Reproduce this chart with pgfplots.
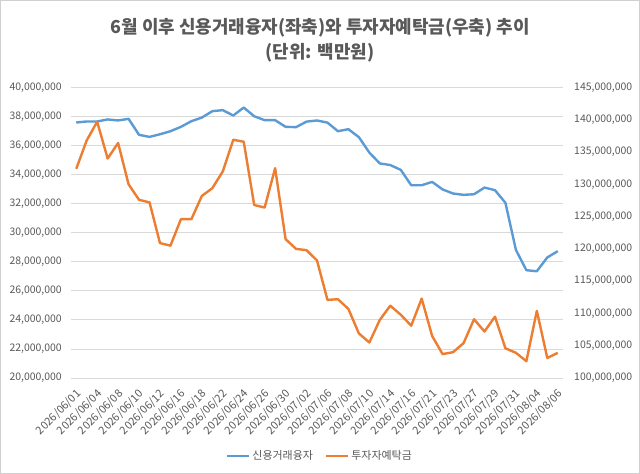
\documentclass[border=0pt]{standalone}
\usepackage{fontspec}
\setmainfont{Noto Sans CJK KR}
\usepackage{pgfplots}
\pgfplotsset{compat=1.18}
\definecolor{cblue}{HTML}{5B9BD5}
\definecolor{corange}{HTML}{ED7D31}
\definecolor{ctext}{HTML}{595959}
\definecolor{cgrid}{HTML}{D9D9D9}
\definecolor{cframe}{HTML}{D0D0D0}

\pgfplotstableread{
i blue orange
0 37590000 132400000
1 37660000 136800000
2 37660000 139700000
3 37800000 134000000
4 37730000 136400000
5 37840000 130000000
6 36740000 127600000
7 36600000 127200000
8 36780000 120900000
9 36990000 120500000
10 37290000 124600000
11 37680000 124600000
12 37930000 128200000
13 38370000 129400000
14 38440000 132000000
15 38070000 136900000
16 38620000 136600000
17 38020000 126800000
18 37750000 126400000
19 37750000 132500000
20 37290000 121500000
21 37270000 120000000
22 37650000 119800000
23 37730000 118200000
24 37580000 112100000
25 36990000 112200000
26 37130000 110700000
27 36580000 106900000
28 35520000 105500000
29 34770000 109000000
30 34660000 111200000
31 34330000 109800000
32 33270000 108100000
33 33270000 112300000
34 33500000 106500000
35 32980000 103700000
36 32700000 104000000
37 32610000 105400000
38 32650000 109100000
39 33110000 107200000
40 32930000 109500000
41 32060000 104600000
42 28820000 103900000
43 27420000 102600000
44 27350000 110400000
45 28300000 103100000
46 28730000 103900000
}\datatable

\pgfplotsset{
  base/.style={
    at={(71bp,96bp)}, anchor=south west,
    scale only axis, width=492bp, height=290.5bp,
    xmin=-0.5, xmax=46.5,
    axis line style={draw=none},
    major tick length=0pt,
    scaled y ticks=false,
    /pgf/number format/.cd, fixed, precision=0, 1000 sep={,}, assume math mode=true,
    /pgfplots/.cd,
    ticklabel style={font=\fontsize{10.5}{12}\selectfont, text=ctext},
  },
}

\begin{document}
\begin{tikzpicture}[x=1bp,y=1bp]
\draw[draw=cframe, fill=white, line width=0.8bp] (0.4,0.4) rectangle (639.6,473.6);
\useasboundingbox (0,0) rectangle (640,474);
\node[font=\fontsize{18}{20}\selectfont\bfseries, text=ctext] at (320,446) {6월 이후 신용거래융자(좌축)와 투자자예탁금(우축) 추이};
\node[font=\fontsize{18}{20}\selectfont\bfseries, text=ctext] at (320,421) {(단위: 백만원)};

\begin{axis}[base,
  axis y line*=left,
  ymin=20000000, ymax=40000000,
  ytick={20000000,22000000,24000000,26000000,28000000,30000000,32000000,34000000,36000000,38000000,40000000},
  ymajorgrids, grid style={draw=cgrid, line width=0.8bp},
  yticklabel style={anchor=east, inner sep=0pt, xshift=-9bp},
  xtick={0,2,...,46},
  xticklabels={2026/06/01,2026/06/04,2026/06/08,2026/06/10,2026/06/12,2026/06/16,2026/06/18,2026/06/22,2026/06/24,2026/06/26,2026/06/30,2026/07/02,2026/07/06,2026/07/08,2026/07/10,2026/07/14,2026/07/16,2026/07/21,2026/07/23,2026/07/27,2026/07/29,2026/07/31,2026/08/04,2026/08/06},
  xticklabel style={font=\fontsize{11}{12}\selectfont, xshift=3bp, yshift=-14bp, rotate=45, anchor=east, inner sep=0pt},
]
\addplot[cblue, line width=2.4bp, line join=round] table[x=i, y=blue] {\datatable};
\end{axis}

\begin{axis}[base,
  axis y line*=right,
  axis x line=none,
  ymin=100000000, ymax=145000000,
  ytick={100000000,105000000,110000000,115000000,120000000,125000000,130000000,135000000,140000000,145000000},
  yticklabel style={anchor=west, inner sep=0pt, xshift=11bp},
  legend style={at={(0.506,-0.2685)}, anchor=center, draw=none, fill=none,
    font=\fontsize{11}{12}\selectfont, text=ctext,
    /tikz/every even column/.append style={column sep=10bp}},
  legend columns=2,
  legend image code/.code={\draw[#1] (0bp,0bp) -- (22bp,0bp);},
]
\addlegendimage{cblue, line width=2.4bp}
\addlegendentry{신용거래융자}
\addplot[corange, line width=2.4bp, line join=round] table[x=i, y=orange] {\datatable};
\addlegendentry{투자자예탁금}
\end{axis}
\end{tikzpicture}
\end{document}
